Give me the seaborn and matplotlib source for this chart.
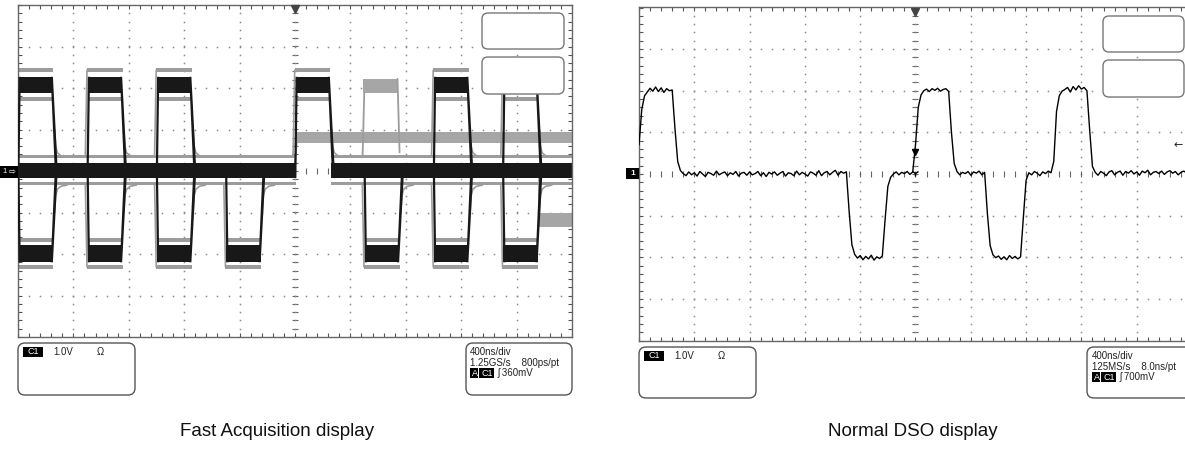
import numpy as np
import pandas as pd
import matplotlib
matplotlib.use("Agg")
import matplotlib.pyplot as plt
import seaborn as sns
from matplotlib import font_manager
from matplotlib.patches import FancyBboxPatch, Rectangle, Polygon

# Screen: 400 ns/div x 10 div, 1 V/div x 8 div (values in divisions)
screen_t = [0, 4000]
screen_v = [-4, 4]
ns_per_div = 400

# --- Fast Acquisition display (overlay of many acquisitions) ---
fast_pos_starts = [0, 500, 1000, 2000, 3000, 3500]
fast_neg_starts = [0, 500, 1000, 1500, 2500, 3000, 3500]
fast_high_dark = [1.88, 2.27]
fast_high_gray = [1.73, 2.43]
fast_low_dark = [-2.20, -1.78]
fast_low_gray = [-2.31, -1.67]
fast_base_dark = [-0.17, 0.19]
fast_base_gray = [-0.30, 0.35]
fast_base_gap = [2005, 2262]
rise_dt = [-6, 10, 20, 4]        # corners of a dark rising edge (ns offsets)
fall_dt = [236, 252, 290, 268]   # corners of a dark falling edge
settle_dt = [0, 8, 20, 45, 90]
settle_dv = [1.0, 0.6, 0.44, 0.37, 0.34]
fast_mid_band = [2010, 4000, 0.68, 0.95]
fast_gray_pulse = [2488, 2745, 1.88, 2.22]
fast_gray_tail = [3762, 4000, -1.36, -1.0]

# --- Normal DSO display: single acquisition, one sample every 20 ns ---
dso_t = list(range(0, 4000, 20))
dso_v = [
    0.70, 1.55, 1.88, 1.97, 2.06, 1.99, 2.09, 1.98, 2.07, 1.96,
    2.05, 2.00, 2.02, 1.10, 0.30, 0.08, 0.01, -0.04, 0.05, -0.02,
    0.03, -0.05, 0.06, 0.00, -0.06, 0.04, 0.01, -0.03, 0.07, -0.02,
    0.02, 0.05, -0.04, 0.03, -0.01, 0.06, -0.05, 0.02, 0.04, -0.03,
    0.05, -0.02, 0.01, 0.06, -0.04, 0.03, -0.06, 0.04, 0.00, 0.05,
    -0.03, 0.02, 0.06, -0.05, 0.03, 0.01, -0.04, 0.07, -0.02, 0.04,
    0.00, -0.05, 0.05, 0.02, -0.03, 0.08, -0.04, 0.03, 0.06, -0.02,
    0.04, 0.09, -0.03, 0.06, 0.02, 0.05, -0.90, -1.70, -1.93, -2.02,
    -1.96, -2.06, -1.98, -2.04, -1.95, -2.07, -1.99, -2.03, -1.97, -1.10,
    -0.30, -0.08, 0.00, 0.05, -0.02, 0.04, 0.01, 0.06, -0.01, 0.05,
    0.70, 1.60, 1.90, 2.00, 2.04, 1.98, 2.05, 2.01, 2.06, 1.99,
    2.03, 2.05, 1.98, 1.00, 0.25, 0.06, -0.02, 0.04, 0.01, 0.06,
    -0.03, 0.05, 0.02, 0.07, -0.02, 0.04, -0.95, -1.72, -1.94, -2.01,
    -1.97, -2.05, -1.99, -2.06, -1.96, -2.03, -1.98, -2.04, -1.99, -1.05,
    -0.15, 0.03, -0.02, 0.06, 0.02, -0.04, 0.05, 0.01, 0.07, 0.03,
    0.30, 1.50, 1.88, 1.99, 2.03, 2.08, 1.97, 2.10, 2.02, 2.12,
    2.04, 2.08, 2.00, 1.05, 0.18, 0.04, -0.03, 0.06, 0.02, -0.04,
    0.05, 0.08, -0.02, 0.04, 0.07, -0.03, 0.06, 0.02, 0.08, 0.00,
    0.05, -0.03, 0.07, 0.03, 0.09, -0.02, 0.04, 0.06, 0.01, 0.07,
    -0.01, 0.05, 0.08, 0.02, 0.06, -0.02, 0.04, 0.07, 0.03, 0.05,
]
dso_trigger_level = 0.7

# readouts
fast_readout = ["400ns/div", "1.25GS/s    800ps/pt", "360mV"]
dso_readout = ["400ns/div", "125MS/s    8.0ns/pt", "700mV"]
captions = ["Fast Acquisition display", "Normal DSO display"]

sns.set_theme(style="white")
plt.rcParams["font.family"] = ["Liberation Sans", "DejaVu Sans"]

names = {f.name for f in font_manager.fontManager.ttflist}
if "Liberation Sans Narrow" in names:
    cap_family, cap_size = ["Liberation Sans Narrow", "DejaVu Sans"], 16.5
else:
    cap_family, cap_size = ["Liberation Sans", "DejaVu Sans"], 13.5

DARK = "#181818"
GRAY = "#9c9c9c"
GRID = "#8a8a8a"

fig = plt.figure(figsize=(11.85, 4.49), dpi=100)
fig.patch.set_facecolor("white")

ax1 = fig.add_axes([18 / 1185, 1 - 337 / 449, 554 / 1185, 332 / 449])
ax2 = fig.add_axes([639 / 1185, 1 - 340.5 / 449, 553 / 1185, 333 / 449])


def screen(ax):
    ax.set_xlim(screen_t)
    ax.set_ylim(screen_v)
    ax.set_xticks(np.arange(0, 4001, ns_per_div))
    ax.set_yticks(np.arange(-4, 5, 1))
    ax.set_xticks(np.arange(0, 4001, ns_per_div / 5), minor=True)
    ax.set_yticks(np.arange(-4, 4.01, 0.2), minor=True)
    ax.tick_params(which="both", direction="in", length=3, width=0.8, color="#555555",
                   top=True, right=True, bottom=True, left=True,
                   labelbottom=False, labelleft=False)
    for sp in ax.spines.values():
        sp.set_color("#666666")
        sp.set_linewidth(1.0)
    # dotted graticule
    yy = np.arange(-4, 4.01, 0.2)
    xx = np.arange(0, 4001, ns_per_div / 5)
    for k in range(1, 10):
        if k == 5:
            continue
        ax.plot(np.full_like(yy, k * ns_per_div), yy, ls="none", marker="s", ms=1.1,
                color=GRID, mew=0, zorder=0)
    for k in range(-3, 4):
        if k == 0:
            continue
        ax.plot(xx, np.full_like(xx, k, dtype=float), ls="none", marker="s", ms=1.1,
                color=GRID, mew=0, zorder=0)
    # centre crosshair with minor ticks
    ax.plot(xx, np.zeros_like(xx, dtype=float), ls="none", marker="|", ms=4, mew=0.8,
            color="#666666", zorder=0)
    ax.plot(np.full_like(yy, 2000), yy, ls="none", marker="_", ms=4, mew=0.8,
            color="#666666", zorder=0)
    ax.plot(np.full_like(yy, 2000), yy, ls="none", marker="s", ms=1.1, mew=0,
            color=GRID, zorder=0)
    # trigger position marker
    ax.plot([2000], [3.9], marker="v", ms=6, color="#444444", clip_on=False, zorder=6)


screen(ax1)
screen(ax2)


# ---------------- Fast Acquisition panel ----------------
def band(ax, t0, t1, lo, hi, color, z=2):
    ax.fill_between([t0, t1], [lo, lo], [hi, hi], color=color, lw=0, zorder=z)


def gray_line(ax, t0, t1, y, z=1):
    band(ax, t0, t1, y - 0.045, y + 0.045, GRAY, z)


base_segments = [(0, fast_base_gap[0]), (fast_base_gap[1], 4000)]
for t0, t1 in base_segments:
    gray_line(ax1, t0, t1, fast_base_gray[1])
    gray_line(ax1, t0, t1, fast_base_gray[0])
    band(ax1, t0, t1, fast_base_dark[0], fast_base_dark[1], DARK)

# rare patterns (gray)
m0, m1, mlo, mhi = fast_mid_band
band(ax1, m0, m1, mlo, mhi, "#a6a6a6", 1)
g0, g1, glo, ghi = fast_gray_pulse
band(ax1, g0, g1, glo, ghi, "#a6a6a6", 1)
ax1.plot([g0, g0 + 12], [fast_base_gray[1], glo], color=GRAY, lw=1.3, zorder=1)
ax1.plot([g1 - 5, g1 + 10], [ghi, fast_base_gray[1] + 0.1], color=GRAY, lw=1.3, zorder=1)
r0, r1, rlo, rhi = fast_gray_tail
band(ax1, r0, r1, rlo, rhi, "#a6a6a6", 1)
ax1.plot([r0, r0], [fast_base_dark[0], rhi], color=GRAY, lw=1.3, zorder=1)
ax1.plot([2000, 2012], [fast_base_dark[1], mlo], color=GRAY, lw=1.3, zorder=1)

for s in fast_pos_starts:
    top0, top1 = s + rise_dt[3], s + fall_dt[1]
    gray_line(ax1, top0 - 6, top1 + 4, fast_high_gray[1])
    gray_line(ax1, top0 + 8, top1 - 6, fast_high_gray[0])
    band(ax1, top0, top1, fast_high_dark[0], fast_high_dark[1], DARK)
    lo = fast_base_dark[0]
    hi = fast_high_dark[1]
    ax1.add_patch(Polygon([(s + rise_dt[0], lo), (s + rise_dt[1], lo),
                           (s + rise_dt[2], hi), (s + rise_dt[3], hi)],
                          closed=True, color=DARK, lw=0, zorder=3))
    ax1.add_patch(Polygon([(s + fall_dt[0], hi), (s + fall_dt[1], hi),
                           (s + fall_dt[2], lo), (s + fall_dt[3], lo)],
                          closed=True, color=DARK, lw=0, zorder=3))
    ax1.plot([s - 14, s - 2], [fast_base_gray[1], fast_high_gray[1]], color=GRAY, lw=1.2, zorder=2)
    ax1.plot([s + fall_dt[1] + 12 + v for v in settle_dt], settle_dv, color=GRAY, lw=1.2, zorder=2)

for s in fast_neg_starts:
    bot0, bot1 = s + rise_dt[3], s + fall_dt[1]
    gray_line(ax1, bot0 + 8, bot1 - 6, fast_low_gray[1])
    gray_line(ax1, bot0 - 6, bot1 + 4, fast_low_gray[0])
    band(ax1, bot0, bot1, fast_low_dark[0], fast_low_dark[1], DARK)
    hi = fast_base_dark[1]
    lo = fast_low_dark[0]
    ax1.add_patch(Polygon([(s + rise_dt[0], hi), (s + rise_dt[1], hi),
                           (s + rise_dt[2], lo), (s + rise_dt[3], lo)],
                          closed=True, color=DARK, lw=0, zorder=3))
    ax1.add_patch(Polygon([(s + fall_dt[0], lo), (s + fall_dt[1], lo),
                           (s + fall_dt[2], hi), (s + fall_dt[3], hi)],
                          closed=True, color=DARK, lw=0, zorder=3))
    ax1.plot([s - 14, s - 2], [fast_base_gray[0], fast_low_gray[0]], color=GRAY, lw=1.2, zorder=2)
    ax1.plot([s + fall_dt[1] + 12 + v for v in settle_dt], [-v for v in settle_dv],
             color=GRAY, lw=1.2, zorder=2)

# ---------------- Normal DSO panel ----------------
dso = pd.DataFrame({"t": dso_t, "v": dso_v})
sns.lineplot(data=dso, x="t", y="v", ax=ax2, color="black", lw=1.0,
             estimator=None, sort=False, zorder=4)
ax2.set_xlabel("")
ax2.set_ylabel("")
ax2.plot([2000], [0.53], marker="v", ms=4, color="black", zorder=6)
ax2.plot([2000], [0.02], marker="1", ms=5, color="black", mew=1, zorder=6)
ax2.text(3900, dso_trigger_level, "\u2190", fontsize=8, ha="center", va="center",
         color="#222222", zorder=6, family=["DejaVu Sans"])

# ---------------- overlay in pixel units ----------------
ov = fig.add_axes([0, 0, 1, 1], zorder=10)
ov.set_xlim(0, 1185)
ov.set_ylim(449, 0)
ov.axis("off")
ov.patch.set_alpha(0)


def rbox(x0, y0, x1, y1, r=6, ec="#777777"):
    ov.add_patch(FancyBboxPatch((x0, y0), x1 - x0, y1 - y0,
                                boxstyle=f"round,pad=0,rounding_size={r}",
                                fc="white", ec=ec, lw=1.0))


def inv(x, y, s, w):
    ov.add_patch(Rectangle((x, y - 5), w, 10, fc="black", ec="none"))
    ov.text(x + w / 2 + 0.5, y, s, fontsize=6.5, color="white", ha="center", va="center")


# top-right blank readout boxes
rbox(482, 13, 564, 49)
rbox(482, 57, 564, 94)
rbox(1103, 16, 1184, 52)
rbox(1103, 60, 1184, 97)

# channel markers at baseline
ov.add_patch(Rectangle((0, 165.5), 18, 12, fc="black", ec="none"))
ov.text(5, 171.5, "1", fontsize=5.5, color="white", ha="center", va="center")
ov.text(12.5, 171.5, "\u21e8", fontsize=6, color="white", ha="center", va="center",
        family=["DejaVu Sans"])
ov.add_patch(Rectangle((626, 168), 13, 11, fc="black", ec="none"))
ov.text(632.5, 173.5, "1", fontsize=6, color="white", ha="center", va="center",
        fontweight="bold")

# bottom readouts
for (x0, x1, y0, y1) in [(18, 135, 343, 395), (639, 756, 347, 398)]:
    rbox(x0, y0, x1, y1, r=7, ec="#555555")
    yc = y0 + 9
    inv(x0 + 5, yc, "C1", 20)
    ov.text(x0 + 35, yc, "1.0V", fontsize=7, color="#222222", va="center")
    ov.text(x0 + 79, yc, "\u03a9", fontsize=7, color="#222222", va="center")

rbox(466, 343, 572, 395, r=7, ec="#555555")
rbox(1087, 347, 1200, 398, r=7, ec="#555555")
for xt, y0, readout in [(470, 343, fast_readout), (1092, 347, dso_readout)]:
    ov.text(xt, y0 + 9, readout[0], fontsize=7, color="#222222", va="center")
    ov.text(xt, y0 + 19.5, readout[1], fontsize=7, color="#222222", va="center")
    inv(xt, y0 + 30, "A", 8)
    inv(xt + 9, y0 + 30, "C1", 15)
    ov.text(xt + 28, y0 + 30, "\u0283 " + readout[2], fontsize=7, color="#222222",
            va="center")

# captions
ov.text(277, 431, captions[0], fontsize=cap_size, family=cap_family, ha="center",
        va="center", color="#111111")
ov.text(913, 431, captions[1], fontsize=cap_size, family=cap_family, ha="center",
        va="center", color="#111111")

fig.savefig("out.png", dpi=100, facecolor="white")
